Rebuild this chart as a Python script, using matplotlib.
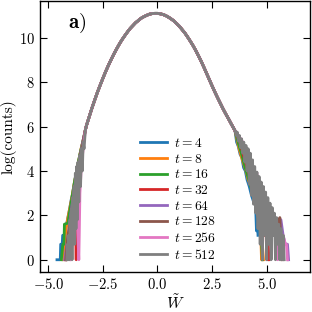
import matplotlib
matplotlib.use("Agg")
import matplotlib.pyplot as plt

plt.rcParams['font.family'] = 'serif'
plt.rcParams['font.serif'] = ['cmr10']
plt.rcParams['mathtext.fontset'] = 'cm'
plt.rcParams['axes.formatter.use_mathtext'] = True
plt.rcParams['axes.unicode_minus'] = True

# shared bulk of all histograms (log counts)
bulk_x = [-3.25, -3.125, -3.0, -2.875, -2.75, -2.625, -2.5, -2.375, -2.25, -2.125, -2.0,
          -1.875, -1.75, -1.625, -1.5, -1.375, -1.25, -1.125, -1.0, -0.875, -0.75, -0.625,
          -0.5, -0.375, -0.25, -0.125, 0.0, 0.125, 0.25, 0.375, 0.5, 0.625, 0.75, 0.875,
          1.0, 1.125, 1.25, 1.375, 1.5, 1.625, 1.75, 1.875, 2.0, 2.125, 2.25, 2.375, 2.5,
          2.625, 2.75, 2.875, 3.0, 3.125, 3.25, 3.375, 3.5]
bulk_y = [6.05, 6.44, 6.83, 7.19, 7.54, 7.86, 8.17, 8.47, 8.75, 9.01, 9.26,
          9.49, 9.71, 9.91, 10.09, 10.26, 10.42, 10.55, 10.68, 10.78, 10.88, 10.95,
          11.01, 11.06, 11.09, 11.10, 11.10, 11.08, 11.05, 11.0, 10.93, 10.85, 10.76, 10.64,
          10.52, 10.37, 10.22, 10.04, 9.85, 9.65, 9.43, 9.19, 8.94, 8.67, 8.39, 8.11, 7.83,
          7.56, 7.3, 7.05, 6.8, 6.57, 6.35, 6.12, 5.9]

labels = ['$t = 4$', '$t = 8$', '$t = 16$', '$t = 32$', '$t = 64$', '$t = 128$', '$t = 256$', '$t = 512$']

left_x = [
    [-4.6, -4.45, -4.43, -4.36, -4.34, -4.28, -4.2, -4.1, -4.02, -3.95, -3.88, -3.8, -3.7, -3.6, -3.5, -3.4, -3.3],
    [-4.3, -4.22, -4.12, -4.02, -3.92, -3.82, -3.72, -3.62, -3.5, -3.4, -3.3],
    [-4.4, -4.33, -4.28, -4.26, -4.1, -4.05, -3.98, -3.88, -3.78, -3.66, -3.55, -3.42, -3.3],
    [-4.2, -4.1, -4.0, -3.9, -3.8, -3.75, -3.72, -3.7, -3.65, -3.55, -3.45, -3.3],
    [-4.25, -4.15, -4.05, -3.95, -3.85, -3.75, -3.65, -3.5, -3.3],
    [-4.2, -4.1, -4.0, -3.9, -3.8, -3.7, -3.55, -3.42, -3.3],
    [-4.0, -3.9, -3.8, -3.7, -3.6, -3.58, -3.55, -3.48, -3.4, -3.3],
    [-4.15, -4.12, -4.09, -4.06, -4.03, -4.0, -3.97, -3.94, -3.91, -3.88, -3.85, -3.82, -3.79,
     -3.76, -3.73, -3.7, -3.67, -3.64, -3.6, -3.56, -3.52, -3.48, -3.44, -3.4, -3.36, -3.3],
]
left_y = [
    [0.0, 0.0, 0.7, 0.7, 1.1, 1.1, 1.4, 1.9, 2.3, 2.7, 3.0, 3.5, 4.0, 4.5, 4.95, 5.4, 5.85],
    [0.0, 1.1, 1.8, 2.3, 2.8, 3.4, 3.9, 4.4, 5.0, 5.4, 5.85],
    [0.0, 0.7, 0.7, 1.6, 1.65, 2.0, 2.4, 3.0, 3.6, 4.2, 4.75, 5.3, 5.85],
    [0.0, 0.7, 1.4, 2.2, 3.0, 1.4, 0.0, 1.4, 3.6, 4.4, 5.0, 5.85],
    [0.0, 0.7, 1.4, 2.2, 2.9, 3.5, 4.1, 4.9, 5.85],
    [0.0, 1.1, 1.6, 2.4, 3.1, 3.8, 4.6, 5.2, 5.85],
    [0.0, 0.7, 1.6, 2.4, 0.0, 1.1, 3.0, 4.3, 5.0, 5.85],
    [0.0, 0.7, 0.0, 1.1, 0.0, 1.8, 0.7, 2.3, 0.0, 2.8, 1.1, 3.3, 0.7,
     3.9, 1.4, 4.2, 1.8, 4.4, 2.6, 4.7, 3.3, 5.0, 4.0, 5.3, 5.0, 5.85],
]

right_x = [
    [3.55, 3.62, 3.7, 3.78, 3.86, 3.94, 4.02, 4.1, 4.2, 4.3, 4.4, 4.48, 4.53, 4.56, 4.6],
    [3.55, 3.65, 3.75, 3.85, 3.95, 4.05, 4.15, 4.25, 4.35, 4.45, 4.55, 4.65, 4.72, 4.76, 4.8, 4.85],
    [3.55, 3.7, 3.85, 4.0, 4.15, 4.3, 4.42, 4.5, 4.55, 4.6, 4.68, 4.75, 4.8],
    [3.55, 3.75, 3.95, 4.15, 4.35, 4.55, 4.7, 4.8, 4.9, 4.97, 5.0, 5.05, 5.1],
    [3.55, 3.8, 4.1, 4.4, 4.6, 4.8, 5.0, 5.2, 5.4, 5.55, 5.65, 5.75, 5.85, 5.95, 6.0],
    [3.55, 3.85, 4.15, 4.45, 4.7, 4.9, 5.0, 5.1, 5.3, 5.5, 5.6, 5.65, 5.7],
    [3.55, 3.85, 4.15, 4.4, 4.55, 4.65, 4.8, 5.0, 5.2, 5.4, 5.5, 5.6, 5.75, 5.85, 5.9, 5.95],
    [3.55, 3.6, 3.65, 3.7, 3.75, 3.8, 3.85, 3.9, 3.95, 4.0, 4.05, 4.1, 4.15, 4.2, 4.25,
     4.3, 4.35, 4.4, 4.45, 4.5, 4.55, 4.6, 4.65, 4.7, 4.75, 4.8, 4.85, 4.9, 4.95, 5.0,
     5.05, 5.1, 5.15, 5.2, 5.25, 5.3, 5.35, 5.4, 5.45, 5.5, 5.55, 5.6, 5.65, 5.7, 5.75, 5.8],
]
right_y = [
    [5.8, 5.3, 5.1, 4.75, 4.6, 4.15, 4.0, 3.6, 3.3, 2.9, 2.6, 2.7, 1.3, 2.0, 1.1],
    [5.8, 5.35, 4.95, 4.6, 4.3, 4.0, 3.6, 3.4, 3.1, 2.9, 2.3, 1.6, 1.4, 0.0, 0.7, 0.0],
    [5.8, 5.25, 4.75, 4.2, 3.7, 3.2, 2.8, 2.5, 2.1, 2.4, 1.4, 1.1, 0.0],
    [5.8, 5.35, 4.65, 4.0, 3.3, 2.6, 2.0, 1.8, 1.1, 1.3, 0.0, 1.1, 0.0],
    [5.8, 5.4, 4.6, 3.9, 3.4, 2.9, 2.5, 2.1, 1.8, 1.4, 1.8, 1.1, 0.7, 0.7, 0.0],
    [5.8, 5.2, 4.4, 3.6, 2.9, 2.0, 1.4, 2.0, 1.6, 1.4, 1.9, 0.7, 0.0],
    [5.8, 5.4, 4.7, 4.0, 3.9, 2.7, 3.1, 2.5, 2.0, 1.2, 0.0, 1.1, 1.1, 0.7, 0.7, 0.0],
    [5.82, 5.6, 5.75, 5.35, 5.6, 5.05, 5.45, 4.8, 5.3, 4.4, 5.15, 4.0, 5.0, 3.4, 4.8,
     2.9, 4.5, 2.5, 4.2, 2.1, 3.95, 1.4, 3.75, 0.7, 3.5, 0.0, 3.3, 1.1, 3.05, 0.0,
     2.8, 0.7, 2.55, 0.0, 2.35, 1.1, 2.1, 0.0, 1.9, 0.7, 1.6, 0.0, 1.4, 0.0, 1.1, 0.0],
]

colors = ['#1f77b4', '#ff7f0e', '#2ca02c', '#d62728', '#9467bd', '#8c564b', '#e377c2', '#7f7f7f']

fig = plt.figure(figsize=(3.12, 3.12), dpi=100)
ax = fig.add_axes([0.128, 0.128, 0.867, 0.869])

for i in range(len(labels)):
    lo = left_x[i][-1]
    hi = right_x[i][0]
    bx = [x for x in bulk_x if lo < x < hi]
    by = [y for x, y in zip(bulk_x, bulk_y) if lo < x < hi]
    xs = list(left_x[i]) + bx + list(right_x[i])
    ys = list(left_y[i]) + by + list(right_y[i])
    ax.plot(xs, ys, color=colors[i], lw=2.0, label=labels[i])

ax.set_xlim(-5.38, 7.0)
ax.set_ylim(-0.555, 11.66)
ax.set_xticks([-5.0, -2.5, 0.0, 2.5, 5.0])
ax.set_yticks([0, 2, 4, 6, 8, 10])
ax.tick_params(direction='in', top=True, right=True, length=5, width=0.8, labelsize=10.5)
for s in ax.spines.values():
    s.set_linewidth(1.0)

ax.set_xlabel(r'$\tilde{W}$', fontsize=11.5, labelpad=1)
ax.set_ylabel('log(counts)', fontsize=11, labelpad=2)
ax.text(0.103, 0.96, r'$\mathbf{a)}$', transform=ax.transAxes, fontsize=15, va='top', ha='left')

ax.legend(loc='center', bbox_to_anchor=(0.511, 0.268), frameon=False, fontsize=9.7,
          labelspacing=0.2, handlelength=2.0, handletextpad=0.5, borderpad=0.2)

fig.savefig('out.png', dpi=100)
